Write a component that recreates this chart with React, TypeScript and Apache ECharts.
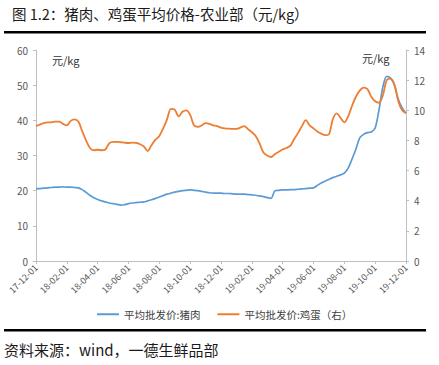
import React, { useEffect, useRef } from "react";
import * as echarts from "echarts";

const months: string[] = [];
(() => {
  const days = ["01", "08", "16", "23"];
  for (let m = 0; m <= 24; m++) {
    const y = 17 + Math.floor((11 + m) / 12);
    const mm = ((11 + m) % 12) + 1;
    const ds = m === 24 ? ["01"] : days;
    for (const d of ds) months.push(`${y}-${String(mm).padStart(2, "0")}-${d}`);
  }
})();
const categories = months;

const porkPrice = [
  20.5, 20.6, 20.7, 20.8, 20.9, 21.0, 21.0, 21.1, 21.0, 21.0, 20.9, 20.8, 20.3, 19.5, 18.7, 18.0,
  17.5, 17.1, 16.8, 16.5, 16.3, 16.1, 15.9, 16.0, 16.3, 16.5, 16.6, 16.7, 16.8, 17.1, 17.4, 17.8,
  18.2, 18.6, 19.0, 19.3, 19.6, 19.8, 20.0, 20.1, 20.2, 20.1, 20.0, 19.8, 19.6, 19.4, 19.3, 19.3,
  19.3, 19.2, 19.2, 19.1, 19.0, 19.0, 19.0, 18.9, 18.8, 18.7, 18.5, 18.3, 18.0, 17.8, 20.0, 20.1,
  20.2, 20.2, 20.3, 20.3, 20.4, 20.5, 20.6, 20.7, 20.8, 21.5, 22.2, 22.7, 23.2, 23.7, 24.1, 24.5,
  25.0, 26.4, 29.0, 31.8, 35.0, 36.0, 36.5, 36.7, 37.8, 43.0, 49.5, 52.5, 52.0, 50.0, 46.0, 43.5,
  42.0,
];

const eggPrice = [
  8.95, 9.05, 9.15, 9.2, 9.2, 9.25, 9.25, 9.1, 9.0, 9.3, 9.4, 9.25, 8.6, 8.0, 7.5, 7.35,
  7.38, 7.35, 7.4, 7.8, 7.9, 7.9, 7.88, 7.85, 7.83, 7.85, 7.83, 7.75, 7.6, 7.3, 7.7, 8.05,
  8.3, 8.8, 9.4, 10.1, 10.05, 9.6, 9.9, 10.0, 9.7, 9.0, 8.9, 9.0, 9.15, 9.1, 9.0, 8.95,
  8.85, 8.8, 8.78, 8.77, 8.76, 8.85, 8.95, 8.75, 8.55, 8.3, 7.8, 7.2, 7.0, 6.9, 7.1, 7.25,
  7.4, 7.5, 7.65, 8.1, 8.5, 8.95, 9.35, 9.0, 8.8, 8.6, 8.45, 8.35, 8.4, 9.4, 9.8, 9.5,
  9.2, 9.6, 10.3, 10.9, 11.3, 11.5, 11.4, 10.9, 10.6, 10.5, 11.0, 12.0, 12.1, 11.7, 10.6, 10.0,
  9.8,
];

const seriesNames = ["平均批发价:猪肉", "平均批发价:鸡蛋（右）"];
const titleText = "图 1.2：猪肉、鸡蛋平均价格-农业部（元/kg）";
const sourceText = "资料来源：wind，一德生鲜品部";
const unitText = "元/kg";

const FONT = '"Noto Sans CJK SC", "Noto Sans", sans-serif';

export default function App() {
  const ref = useRef<HTMLDivElement>(null);
  useEffect(() => {
    if (!ref.current) return;
    const chart = echarts.init(ref.current, null, { renderer: "svg" });
    const showIdx = (idx: number) => idx % 8 === 0;
    const axisCommon = {
      axisLine: { show: true, lineStyle: { color: "#BFBFBF", width: 1 } },
      axisTick: { show: true, length: 3, lineStyle: { color: "#BFBFBF" } },
      splitLine: { show: false },
      axisLabel: { color: "#595959", fontSize: 10, fontFamily: FONT, margin: 8 },
    };
    chart.setOption({
      animation: false,
      backgroundColor: "#ffffff",
      textStyle: { fontFamily: FONT },
      grid: { left: 36, right: 33, top: 50, bottom: 104, containLabel: false },
      legend: {
        left: 92,
        top: 304,
        itemWidth: 22,
        itemHeight: 2,
        itemGap: 17,
        icon: "rect",
        textStyle: { color: "#404040", fontSize: 10.5, fontFamily: FONT },
        data: seriesNames,
      },
      xAxis: {
        type: "category",
        data: categories,
        boundaryGap: false,
        axisLine: { show: true, lineStyle: { color: "#BFBFBF" } },
        axisTick: { show: true, interval: showIdx, length: 3, lineStyle: { color: "#BFBFBF" } },
        axisLabel: {
          interval: showIdx,
          rotate: 45,
          color: "#595959",
          fontSize: 9,
          fontFamily: FONT,
          margin: 5,
        },
      },
      yAxis: [
        { type: "value", min: 0, max: 60, interval: 10, position: "left", ...axisCommon },
        { type: "value", min: 0, max: 14, interval: 2, position: "right", ...axisCommon },
      ],
      series: [
        {
          name: seriesNames[0],
          type: "line",
          data: porkPrice,
          yAxisIndex: 0,
          symbol: "none",
          smooth: 0.3,
          lineStyle: { color: "#5B9BD5", width: 1.7 },
          itemStyle: { color: "#5B9BD5" },
        },
        {
          name: seriesNames[1],
          type: "line",
          data: eggPrice,
          yAxisIndex: 1,
          symbol: "none",
          smooth: 0.3,
          lineStyle: { color: "#ED7D31", width: 1.8 },
          itemStyle: { color: "#ED7D31" },
        },
      ],
      graphic: [
        {
          type: "text",
          left: 12,
          top: 6,
          style: { text: titleText, fontSize: 14.5, fill: "#1a1a1a", fontFamily: FONT },
        },
        {
          type: "rect",
          shape: { x: 4, y: 31, width: 422, height: 2.5 },
          style: { fill: "#000" },
        },
        {
          type: "rect",
          shape: { x: 4, y: 329, width: 422, height: 2.5 },
          style: { fill: "#000" },
        },
        {
          type: "text",
          left: 4,
          top: 342,
          style: { text: sourceText, fontSize: 15, fill: "#1a1a1a", fontFamily: FONT },
        },
        {
          type: "text",
          left: 52,
          top: 54,
          style: { text: unitText, fontSize: 11, fill: "#333", fontFamily: FONT },
        },
        {
          type: "text",
          left: 362,
          top: 52,
          style: { text: unitText, fontSize: 11, fill: "#333", fontFamily: FONT },
        },
      ],
    });
    return () => chart.dispose();
  }, []);
  return (
    <div
      ref={ref}
      style={{ position: "fixed", left: 0, top: 0, width: 439, height: 365, background: "#fff" }}
    />
  );
}
